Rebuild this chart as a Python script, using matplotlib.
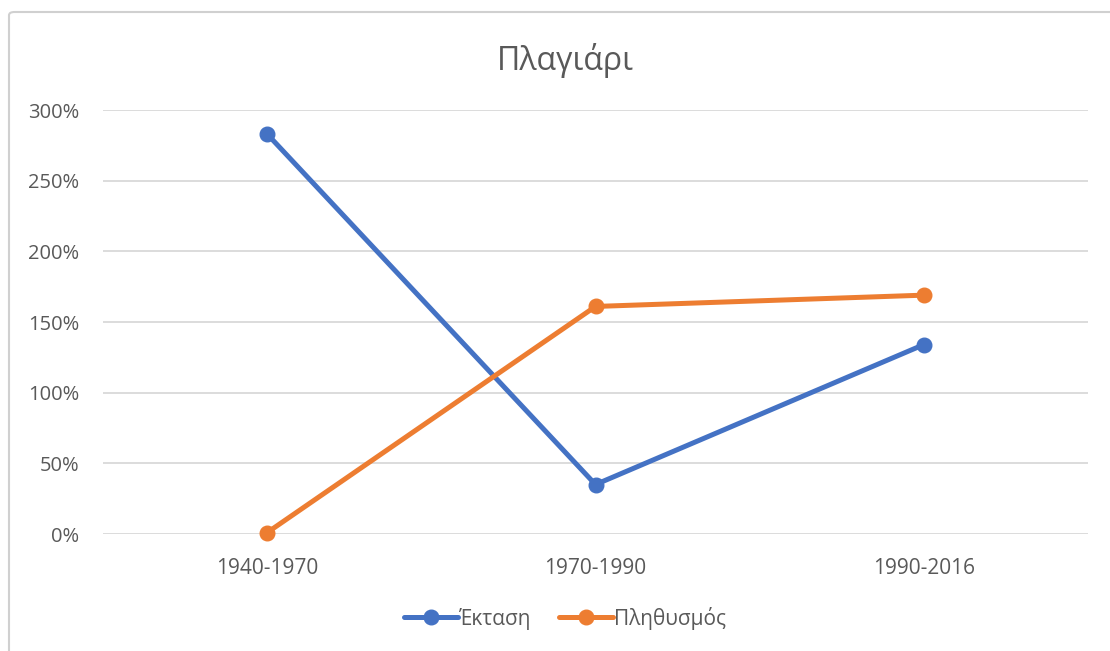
import matplotlib
matplotlib.use("Agg")
import matplotlib.pyplot as plt
from matplotlib.patches import FancyBboxPatch
from matplotlib.ticker import FuncFormatter

plt.rcParams['font.family'] = ['Open Sans', 'DejaVu Sans']

periods = ["1940-1970", "1970-1990", "1990-2016"]
ektasi = [283, 35, 134]
plithysmos = [1, 161, 169]
y_ticks = [0, 50, 100, 150, 200, 250, 300]

TEXT = "#595959"
GRID = "#d9d9d9"

W, H = 1110, 651
fig = plt.figure(figsize=(W / 100, H / 100), dpi=100)

# chart frame (only left/top visible in the screenshot)
frame = FancyBboxPatch((9 / W, -0.05), 1.2, 1 - 12 / H + 0.05,
                       boxstyle="round,pad=0,rounding_size=0.005",
                       transform=fig.transFigure, fill=False,
                       edgecolor="#d0d0d0", linewidth=1.5)
fig.patches.append(frame)

ax = fig.add_axes([103 / W, (H - 534) / H, (1088 - 103) / W, (534 - 110) / H])

x = range(len(periods))
ax.plot(x, ektasi, color="#4472C4", lw=3.6, marker="o", ms=10.5,
        solid_capstyle="round", label="Έκταση", zorder=3)
ax.plot(x, plithysmos, color="#ED7D31", lw=3.6, marker="o", ms=10.5,
        solid_capstyle="round", label="Πληθυσμός", zorder=3)

ax.set_xlim(-0.5, len(periods) - 0.5)
ax.set_ylim(0, 300)
ax.set_yticks(y_ticks)
ax.yaxis.set_major_formatter(FuncFormatter(lambda v, p: f"{v:.0f}%"))
ax.set_xticks(list(x))
ax.set_xticklabels(periods)
ax.grid(axis="y", color=GRID, lw=1.3)
ax.set_axisbelow(True)
for s in ax.spines.values():
    s.set_visible(False)
ax.tick_params(length=0, colors=TEXT, labelsize=14.5)
ax.tick_params(axis="x", labelsize=15, pad=17)
ax.tick_params(axis="y", pad=17)
for ln in ax.lines:
    ln.set_clip_on(False)

# chart area is cropped on the right, so its centre sits right of the figure centre
cx = 565 / W
fig.text(cx, 1 - 60 / H, "Πλαγιάρι", ha="center", va="center",
         fontsize=23, color=TEXT)

fig.legend(loc="center", bbox_to_anchor=(cx, 1 - 618 / H), ncol=2,
           frameon=False, fontsize=15, labelcolor=TEXT,
           handlelength=2.6, handletextpad=0.05, columnspacing=1.3)

fig.savefig("out.png", dpi=100, facecolor="white")
